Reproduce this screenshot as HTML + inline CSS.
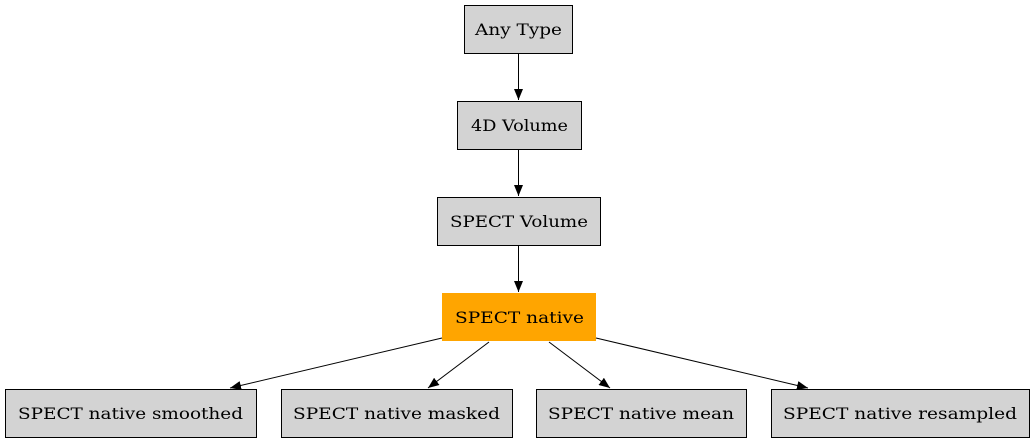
<!DOCTYPE html>
<html><head><meta charset="utf-8"><style>
body{margin:0;background:#fff;width:1035px;height:443px;overflow:hidden}
</style></head><body>
<svg width="1035" height="443" xmlns="http://www.w3.org/2000/svg" font-family="DejaVu Serif, serif" font-size="15.5">
<defs><marker id="a" markerWidth="11" markerHeight="9" refX="11" refY="4.5" orient="auto" markerUnits="userSpaceOnUse"><path d="M0,0L11,4.5L0,9z" fill="#000"/></marker></defs>
<g fill="#d3d3d3" stroke="#000">
<rect x="464.5" y="5.5" width="108" height="48"/>
<rect x="457.5" y="101.5" width="124" height="48"/>
<rect x="437.5" y="197.5" width="163" height="48"/>
<rect x="5.5" y="389.5" width="251" height="48"/>
<rect x="281.5" y="389.5" width="231" height="48"/>
<rect x="536.5" y="389.5" width="210" height="48"/>
<rect x="771.5" y="389.5" width="258" height="48"/>
</g>
<rect x="442" y="293" width="154" height="48" fill="#ffa500"/>
<g stroke="#000" fill="none" marker-end="url(#a)">
<line x1="518.5" y1="54" x2="518.5" y2="100"/>
<line x1="518.5" y1="150" x2="518.5" y2="196"/>
<line x1="518.5" y1="246" x2="518.5" y2="292"/>
<line x1="442" y1="338" x2="230" y2="388"/>
<line x1="489" y1="342" x2="428" y2="388"/>
<line x1="549" y1="342" x2="610" y2="388"/>
<line x1="596" y1="338" x2="808" y2="388"/>
</g>
<g fill="#000">
<text x="475" y="35" textLength="87" lengthAdjust="spacingAndGlyphs">Any Type</text>
<text x="471" y="131" textLength="97" lengthAdjust="spacingAndGlyphs">4D Volume</text>
<text x="450" y="227" textLength="138" lengthAdjust="spacingAndGlyphs">SPECT Volume</text>
<text x="455" y="323" textLength="129" lengthAdjust="spacingAndGlyphs">SPECT native</text>
<text x="18" y="419" textLength="225" lengthAdjust="spacingAndGlyphs">SPECT native smoothed</text>
<text x="293" y="419" textLength="207" lengthAdjust="spacingAndGlyphs">SPECT native masked</text>
<text x="548" y="419" textLength="186" lengthAdjust="spacingAndGlyphs">SPECT native mean</text>
<text x="783" y="419" textLength="234" lengthAdjust="spacingAndGlyphs">SPECT native resampled</text>
</g>
</svg>
</body></html>
